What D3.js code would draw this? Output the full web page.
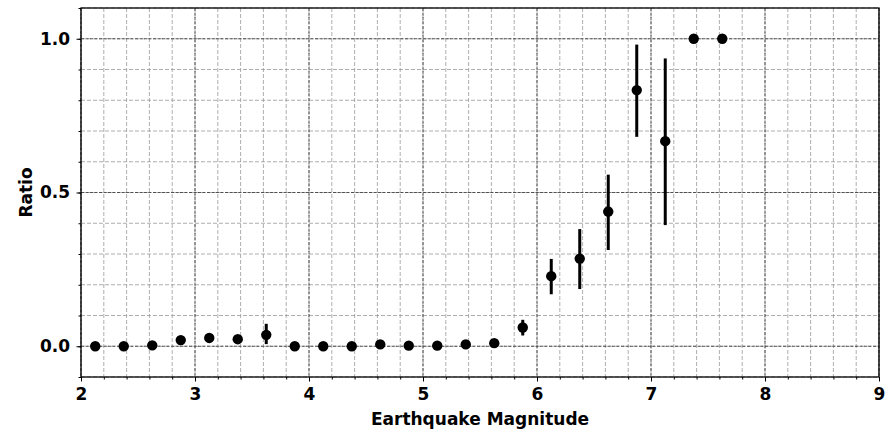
<!DOCTYPE html>
<html>
<head>
<meta charset="utf-8">
<script src="https://cdn.jsdelivr.net/npm/d3@7"></script>
<style>
  body { margin: 0; background: #fff; }
  .grid-minor line { stroke: #999; stroke-width: 0.8; stroke-dasharray: 4,2; }
  .grid-major line { stroke: #444; stroke-width: 0.9; stroke-dasharray: 3,1.5; }
</style>
</head>
<body>
<script>
// magnitude bin centres, ratio and error bar ends
var magnitudes = [2.125, 2.375, 2.625, 2.875, 3.125, 3.375, 3.625, 3.875, 4.125, 4.375,
                  4.625, 4.875, 5.125, 5.375, 5.625, 5.875, 6.125, 6.375, 6.625, 6.875,
                  7.125, 7.375, 7.625];
var ratios     = [0, 0, 0.003, 0.02, 0.027, 0.023, 0.037, 0, 0, 0,
                  0.006, 0.002, 0.002, 0.006, 0.01, 0.061, 0.228, 0.285, 0.438, 0.833,
                  0.667, 1.0, 1.0];
var errLow     = [0, 0, 0.003, 0.02, 0.027, 0.010, 0.007, 0, 0, 0,
                  0.006, 0.002, 0.002, 0.006, 0.01, 0.035, 0.169, 0.186, 0.313, 0.681,
                  0.394, 1.0, 1.0];
var errHigh    = [0, 0, 0.003, 0.02, 0.027, 0.033, 0.073, 0, 0, 0,
                  0.006, 0.002, 0.002, 0.006, 0.01, 0.086, 0.284, 0.381, 0.558, 0.981,
                  0.936, 1.0, 1.0];
var xTicks = [2, 3, 4, 5, 6, 7, 8, 9];
var yTicks = [0.0, 0.5, 1.0];

var data = magnitudes.map(function(m, i) {
    return {x: m, y: ratios[i], lo: errLow[i], hi: errHigh[i]};
});

var margin = {top: 8, right: 17, bottom: 55, left: 81},
    width = 896 - margin.left - margin.right,
    height = 432 - margin.top - margin.bottom;

var svg = d3.select("body").append("svg")
    .attr("width", 896)
    .attr("height", 432)
    .style("font-family", "'DejaVu Sans', sans-serif");

var g = svg.append("g")
    .attr("transform", "translate(" + margin.left + "," + margin.top + ")");

var x = d3.scaleLinear().domain([2, 9]).range([0, width]);
var y = d3.scaleLinear().domain([-0.1, 1.1]).range([height, 0]);

var xMinor = d3.range(2, 9.001, 0.2).map(function(v) { return +v.toFixed(1); });
var yMinor = d3.range(-0.1, 1.1001, 0.1).map(function(v) { return +v.toFixed(1); });

// minor grid
g.append("g").attr("class", "grid-minor")
    .selectAll("line").data(xMinor).enter().append("line")
    .attr("x1", x).attr("x2", x).attr("y1", 0).attr("y2", height);
g.append("g").attr("class", "grid-minor")
    .selectAll("line").data(yMinor).enter().append("line")
    .attr("y1", y).attr("y2", y).attr("x1", 0).attr("x2", width);

// major grid
g.append("g").attr("class", "grid-major")
    .selectAll("line").data(xTicks).enter().append("line")
    .attr("x1", x).attr("x2", x).attr("y1", 0).attr("y2", height);
g.append("g").attr("class", "grid-major")
    .selectAll("line").data(yTicks).enter().append("line")
    .attr("y1", y).attr("y2", y).attr("x1", 0).attr("x2", width);

// axes: minor ticks then major ticks with labels
g.append("g")
    .attr("transform", "translate(0," + height + ")")
    .call(d3.axisBottom(x).tickValues(xMinor).tickSize(2.5).tickFormat(""))
    .call(function(a) { a.select(".domain").remove(); });
g.append("g")
    .call(d3.axisLeft(y).tickValues(yMinor).tickSize(2.5).tickFormat(""))
    .call(function(a) { a.select(".domain").remove(); });

function styleAxis(a) {
    a.select(".domain").remove();
    a.attr("font-size", null).attr("font-family", null);
    a.selectAll(".tick text")
        .style("font-size", "17px")
        .style("font-weight", "bold")
        .style("font-family", "'DejaVu Sans', sans-serif")
        .attr("fill", "#000");
}

g.append("g")
    .attr("transform", "translate(0," + height + ")")
    .call(d3.axisBottom(x).tickValues(xTicks).tickSize(4.5).tickPadding(6).tickFormat(d3.format("d")))
    .call(styleAxis);
g.append("g")
    .call(d3.axisLeft(y).tickValues(yTicks).tickSize(4.5).tickPadding(6.5).tickFormat(d3.format(".1f")))
    .call(styleAxis);

// frame
g.append("rect")
    .attr("width", width).attr("height", height)
    .attr("fill", "none").attr("stroke", "#000").attr("stroke-width", 1.3);

// error bars
g.selectAll(".err").data(data.filter(function(d) { return d.hi > d.lo; }))
    .enter().append("line")
    .attr("class", "err")
    .attr("x1", function(d) { return x(d.x); })
    .attr("x2", function(d) { return x(d.x); })
    .attr("y1", function(d) { return y(d.lo); })
    .attr("y2", function(d) { return y(d.hi); })
    .attr("stroke", "#000").attr("stroke-width", 3);

// points
g.selectAll(".pt").data(data).enter().append("circle")
    .attr("class", "pt")
    .attr("cx", function(d) { return x(d.x); })
    .attr("cy", function(d) { return y(d.y); })
    .attr("r", 5.2)
    .attr("fill", "#000");

// axis labels
svg.append("text")
    .attr("x", margin.left + width / 2)
    .attr("y", 425)
    .attr("text-anchor", "middle")
    .style("font-weight", "bold").style("font-size", "17px")
    .text("Earthquake Magnitude");

svg.append("text")
    .attr("transform", "translate(32," + (margin.top + y(0.5)) + ") rotate(-90)")
    .attr("text-anchor", "middle")
    .style("font-weight", "bold").style("font-size", "17px")
    .text("Ratio");
</script>
</body>
</html>
